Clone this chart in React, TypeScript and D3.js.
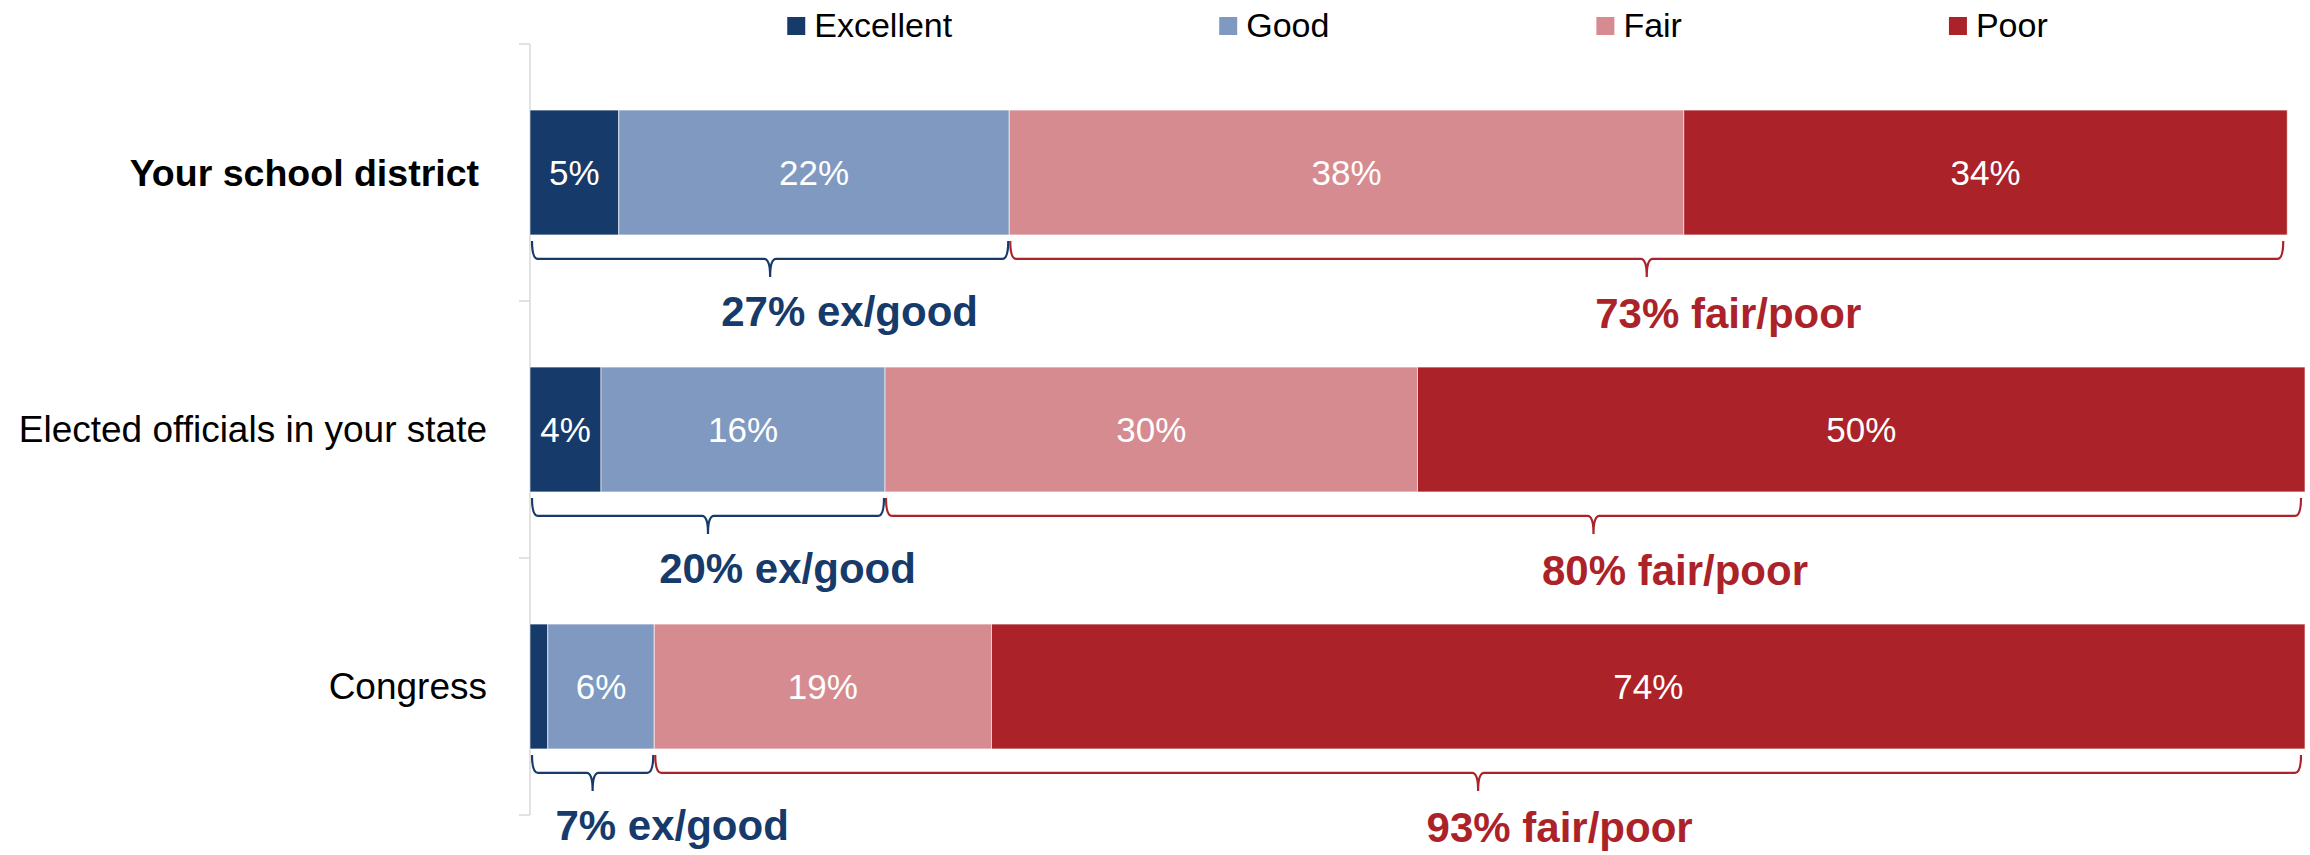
import { scaleLinear, scaleBand, stack } from 'd3';

const WIDTH = 2310;
const HEIGHT = 855;
const FONT = '"Liberation Sans", Arial, sans-serif';

const CATEGORIES = ['Your school district', 'Elected officials in your state', 'Congress'];
const SERIES = ['Excellent', 'Good', 'Fair', 'Poor'];
const EXCELLENT = [5, 4, 1];
const GOOD = [22, 16, 6];
const FAIR = [38, 30, 19];
const POOR = [34, 50, 74];
const EX_GOOD = [27, 20, 7];
const FAIR_POOR = [73, 80, 93];

const COLORS: Record<string, string> = {
  Excellent: '#163a6a',
  Good: '#7f99c0',
  Fair: '#d68b91',
  Poor: '#ab2328',
};
const BLUE = '#163a6a';
const RED = '#ab2328';

const LABEL_NUDGE = 80; // summary labels sit right of the brace tip

type Row = { cat: string; Excellent: number; Good: number; Fair: number; Poor: number };

const rows: Row[] = CATEGORIES.map((cat, i) => ({
  cat,
  Excellent: EXCELLENT[i],
  Good: GOOD[i],
  Fair: FAIR[i],
  Poor: POOR[i],
}));

function textWidth(text: string, font: string) {
  const ctx = document.createElement('canvas').getContext('2d');
  if (!ctx) return text.length * 18;
  ctx.font = font;
  return ctx.measureText(text).width;
}

// curly brace opening downward, tip in the middle
function bracePath(x0: number, x1: number, y0: number) {
  const r = 6;
  const ym = y0 + 18;
  const yt = y0 + 36;
  const xc = (x0 + x1) / 2;
  return [
    `M${x0},${y0}`,
    `Q${x0},${ym} ${x0 + r},${ym}`,
    `L${xc - r},${ym}`,
    `Q${xc},${ym} ${xc},${yt}`,
    `Q${xc},${ym} ${xc + r},${ym}`,
    `L${x1 - r},${ym}`,
    `Q${x1},${ym} ${x1},${y0}`,
  ].join(' ');
}

export default function App() {
  const x = scaleLinear().domain([0, 100]).range([530, 2305]);
  const y = scaleBand<string>()
    .domain(CATEGORIES)
    .range([44, 815])
    .paddingInner(0.514)
    .paddingOuter(0.257);

  const stacked = stack<Row>().keys(SERIES)(rows);
  const gap = (y.step() - y.bandwidth()) / 2;
  const ticks = [...CATEGORIES.map(c => (y(c) ?? 0) - gap), 815];

  // legend, centred over the plot
  const legendFont = `34px ${FONT}`;
  const sq = 18;
  const sqGap = 9;
  const itemGap = 267;
  const widths = SERIES.map(s => sq + sqGap + textWidth(s, legendFont));
  const total = widths.reduce((a, b) => a + b, 0) + itemGap * (SERIES.length - 1);
  let lx = (x(0) + x(100)) / 2 - total / 2;
  const legendItems = SERIES.map((s, i) => {
    const item = { s, x: lx };
    lx += widths[i] + itemGap;
    return item;
  });

  return (
    <svg
      width={WIDTH}
      height={HEIGHT}
      style={{ position: 'absolute', left: 0, top: 0, background: '#fff' }}
      fontFamily={FONT}
    >
      {/* legend */}
      {legendItems.map(({ s, x: ix }) => (
        <g key={s}>
          <rect x={ix} y={17} width={sq} height={sq} fill={COLORS[s]} />
          <text x={ix + sq + sqGap} y={37} fontSize={34} fill="#000">
            {s}
          </text>
        </g>
      ))}

      {/* axis */}
      <line x1={x(0)} x2={x(0)} y1={44} y2={815} stroke="#d9d9d9" strokeWidth={1.5} />
      {ticks.map((t, i) => (
        <line key={i} x1={x(0) - 11} x2={x(0)} y1={t} y2={t} stroke="#d9d9d9" strokeWidth={1.5} />
      ))}

      {/* category labels */}
      {CATEGORIES.map((c, i) => (
        <text
          key={c}
          x={i === 0 ? 479 : 487}
          y={(y(c) ?? 0) + y.bandwidth() / 2}
          dy="0.35em"
          textAnchor="end"
          fontSize={i === 0 ? 37.5 : 37}
          fontWeight={i === 0 ? 'bold' : 'normal'}
          fill="#000"
        >
          {c}
        </text>
      ))}

      {/* bars */}
      {stacked.map(layer => (
        <g key={layer.key} fill={COLORS[layer.key]}>
          {layer.map((d, i) => (
            <rect
              key={i}
              x={x(d[0])}
              y={y(d.data.cat)}
              width={x(d[1]) - x(d[0])}
              height={y.bandwidth()}
              stroke="#ffffff"
              strokeOpacity={0.6}
              strokeWidth={1}
            />
          ))}
        </g>
      ))}

      {/* value labels */}
      {stacked.map(layer =>
        layer.map((d, i) =>
          d[1] - d[0] >= 3 ? (
            <text
              key={layer.key + i}
              x={(x(d[0]) + x(d[1])) / 2}
              y={(y(d.data.cat) ?? 0) + y.bandwidth() / 2}
              dy="0.35em"
              textAnchor="middle"
              fontSize={35}
              fill="#ffffff"
            >
              {`${d[1] - d[0]}%`}
            </text>
          ) : null
        )
      )}

      {/* braces and summaries */}
      {CATEGORIES.map((c, i) => {
        const bottom = (y(c) ?? 0) + y.bandwidth();
        const start = x(0);
        const mid = x(stacked[1][i][1]);
        const end = x(stacked[3][i][1]);
        return (
          <g key={c}>
            <path
              d={bracePath(start + 2, mid - 1, bottom + 6)}
              fill="none"
              stroke={BLUE}
              strokeWidth={2.2}
            />
            <path
              d={bracePath(mid + 1, end - 4, bottom + 6)}
              fill="none"
              stroke={RED}
              strokeWidth={2.2}
            />
            <text
              x={(start + mid) / 2 + LABEL_NUDGE}
              y={bottom + 91}
              textAnchor="middle"
              fontSize={42}
              fontWeight="bold"
              fill={BLUE}
            >
              {`${EX_GOOD[i]}% ex/good`}
            </text>
            <text
              x={(mid + end) / 2 + LABEL_NUDGE}
              y={bottom + 93}
              textAnchor="middle"
              fontSize={42}
              fontWeight="bold"
              fill={RED}
            >
              {`${FAIR_POOR[i]}% fair/poor`}
            </text>
          </g>
        );
      })}
    </svg>
  );
}
